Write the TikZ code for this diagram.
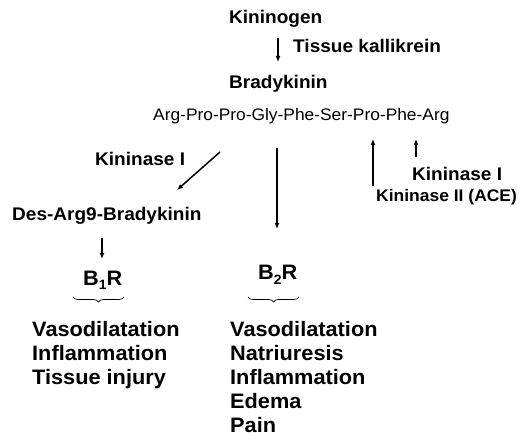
\documentclass[tikz,border=0pt]{standalone}
\usepackage{fontspec}
\setmainfont{Liberation Sans}[FakeStretch=1.04]
\usetikzlibrary{arrows.meta,decorations.pathreplacing}
\tikzset{
  lab/.style={inner sep=0pt, anchor=base west, font=\fontsize{18.3}{21}\selectfont\bfseries},
  labs/.style={inner sep=0pt, anchor=base west, font=\fontsize{16.8}{20}\selectfont\bfseries},
  seq/.style={inner sep=0pt, anchor=base west, font=\fontsize{16.7}{19}\selectfont},
  big/.style={inner sep=0pt, anchor=base west, font=\fontsize{20.9}{24}\selectfont\bfseries},
  arr/.style={line width=1.5pt, -{Latex[length=6pt,width=5pt]}},
  brc/.style={line width=0.7pt, decorate, decoration={brace, amplitude=5pt, mirror}}
}
\newcommand{\subn}[1]{\raisebox{-4.5pt}{\fontsize{13.5}{13.5}\selectfont #1}}
\begin{document}
\begin{tikzpicture}[x=1pt,y=-1pt]
\useasboundingbox (0,0) rectangle (523,446);
\node[lab] (kgen) at (229,24) {Kininogen};
\node[lab] (tk) at (293,53) {Tissue kallikrein};
\node[lab] (bk) at (229,88.5) {Bradykinin};
\node[seq] (sq) at (153,121) {Arg-Pro-Pro-Gly-Phe-Ser-Pro-Phe-Arg};
\node[lab] (k1l) at (95,166) {Kininase I};
\node[lab] (des) at (12,220.5) {Des-Arg9-Bradykinin};
\node[lab] (k1r) at (412,181) {Kininase I};
\node[labs] (k2) at (376,201.5) {Kininase II (ACE)};
\node[big] (b1) at (83,285.5) {B\subn{1}R};
\node[big] (b2) at (258,280) {B\subn{2}R};
\node[big, align=left, anchor=north west] (l1) at (32,321) {Vasodilatation\\Inflammation\\Tissue injury};
\node[big, align=left, anchor=north west] (l2) at (230,321) {Vasodilatation\\Natriuresis\\Inflammation\\Edema\\Pain};
% arrow end points
\coordinate (a1s) at (278,38); \coordinate (a1e) at (278,62);
\coordinate (a2s) at (220,152); \coordinate (a2e) at (177,190);
\coordinate (a3s) at (277,148); \coordinate (a3e) at (277,229);
\coordinate (a4s) at (373,186); \coordinate (a4e) at (373,139);
\coordinate (a5s) at (416,157); \coordinate (a5e) at (416,139);
\coordinate (a6s) at (102,238); \coordinate (a6e) at (102,259);
\draw[arr] (a1s) -- (a1e);
\draw[arr] (a2s) -- (a2e);
\draw[arr] (a3s) -- (a3e);
\draw[arr] (a4s) -- (a4e);
\draw[arr] (a5s) -- (a5e);
\draw[arr] (a6s) -- (a6e);
% braces
\coordinate (br1a) at (73,297); \coordinate (br1b) at (124,297);
\coordinate (br2a) at (248,297); \coordinate (br2b) at (299,297);
\draw[brc] (br1a) -- (br1b);
\draw[brc] (br2a) -- (br2b);
\end{tikzpicture}
\end{document}
